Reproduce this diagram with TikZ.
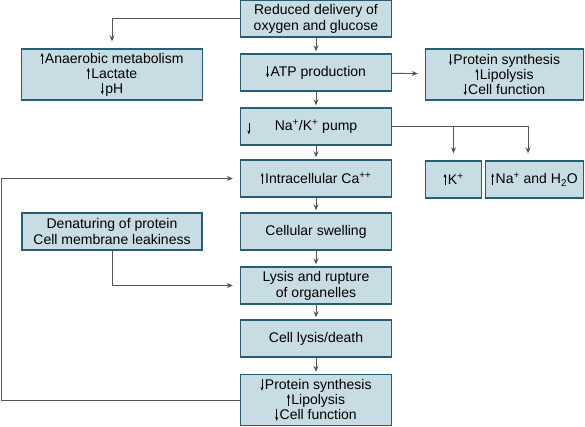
\documentclass[tikz,border=0pt]{standalone}
\usepackage{fontspec}
\setmainfont{Liberation Sans}
\usetikzlibrary{arrows.meta}

\definecolor{boxfill}{RGB}{200,220,228}
\definecolor{boxedge}{RGB}{38,94,114}
\definecolor{wire}{RGB}{85,85,85}

% small in-text arrows
\newcommand\uparr{\tikz[baseline=0pt]\draw[black,line width=0.6pt,-{Stealth[length=3.8pt,width=3pt]}] (0pt,-1pt) -- (0pt,10.5pt);\hspace{1.5pt}}
\newcommand\dnarr{\tikz[baseline=0pt]\draw[black,line width=0.6pt,-{Stealth[length=3.8pt,width=3pt]}] (0pt,10.5pt) -- (0pt,-1pt);\hspace{1.5pt}}

\begin{document}
\begin{tikzpicture}[x=1pt, y=-1pt,
  box/.style={draw=boxedge, fill=boxfill, line width=1.4pt, align=center, inner sep=0pt,
              font=\fontsize{14}{16}\selectfont, minimum height=37pt},
  main/.style={box, minimum width=151pt},
  tall/.style={minimum height=51pt, font=\fontsize{14}{15}\selectfont},
  flow/.style={draw=wire, line width=0.9pt, -{Stealth[length=6pt,width=5pt]}, shorten >=2pt},
  feed/.style={flow, shorten >=7pt}]

  %% ==== central column ====
  \node[main] (reduce) at (316,18.5)  {Reduced delivery of\\oxygen and glucose};
  \node[main] (atp)    at (316,72.5)  {\dnarr ATP production};
  \node[main, label={[anchor=west, xshift=4pt, yshift=-2pt]west:\dnarr}]
              (pump)   at (316,126.5) {Na\textsuperscript{+}/K\textsuperscript{+} pump};
  \node[main] (ca)     at (316,178.5) {\uparr Intracellular Ca\textsuperscript{++}};
  \node[main] (swell)  at (316,231.5) {Cellular swelling};
  \node[main] (lysis)  at (316,285.5) {Lysis and rupture\\of organelles};
  \node[main] (death)  at (316,338.5) {Cell lysis/death};
  \node[main, tall]
              (loss)   at (316,400)   {\dnarr Protein synthesis\\\uparr Lipolysis\\\dnarr Cell function};

  %% ==== side boxes ====
  \node[box, tall, minimum width=181pt]
              (anaer)  at (112,74.5)  {\uparr Anaerobic metabolism\\\uparr Lactate\\\dnarr pH};
  \node[box, tall, minimum width=158pt]
              (prot)   at (504.5,74.5) {\dnarr Protein synthesis\\\uparr Lipolysis\\\dnarr Cell function};
  \node[box, minimum width=56pt]  (kplus)  at (453.5,179.5) {\uparr K\textsuperscript{+}};
  \node[box, minimum width=98pt]  (naplus) at (534.5,179.5) {\uparr Na\textsuperscript{+} and H\textsubscript{2}O};
  \node[box, minimum width=180pt] (denat)  at (112,231.5) {Denaturing of protein\\Cell membrane leakiness};

  %% ==== connectors ====
  \foreach \a/\b in {reduce/atp, atp/pump, pump/ca, ca/swell, swell/lysis, lysis/death, death/loss}
    \draw[flow] (\a) -- (\b);
  \draw[feed] (reduce.west) -| (anaer.north);
  \draw[feed] (atp) -- (prot);
  \coordinate (ksplit) at (kplus.north |- pump.east);
  \draw[feed] (pump.east) -| ([xshift=-6.5pt]naplus.north);
  \draw[feed] (ksplit) -- (kplus.north);
  \draw[feed] (denat.south) |- (lysis.west);
  \draw[feed] (loss.west) -- (1,400) |- (ca.west);

  \pgfresetboundingbox
  \path[use as bounding box] (0,0) rectangle (585,426);
\end{tikzpicture}
\end{document}
